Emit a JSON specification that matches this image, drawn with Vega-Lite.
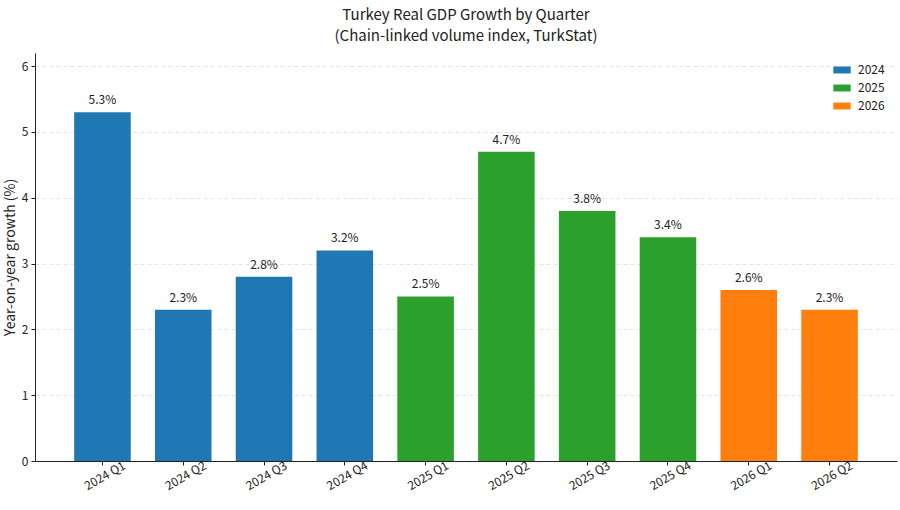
{
  "$schema": "https://vega.github.io/schema/vega-lite/v6.json",
  "width": 862,
  "height": 408,
  "autosize": {"type": "none"},
  "padding": {"left": 35, "top": 53, "right": 3, "bottom": 49},
  "background": "white",
  "config": {
    "font": "Noto Sans CJK JP",
    "view": {"stroke": null}
  },
  "title": {
    "text": ["Turkey Real GDP Growth by Quarter", "(Chain-linked volume index, TurkStat)"],
    "fontSize": 15,
    "fontWeight": "normal",
    "color": "#222222",
    "anchor": "middle",
    "offset": 9,
    "lineHeight": 21
  },
  "data": {
    "values": [
      {"quarter": "2024 Q1", "year": "2024", "growth": 5.3},
      {"quarter": "2024 Q2", "year": "2024", "growth": 2.3},
      {"quarter": "2024 Q3", "year": "2024", "growth": 2.8},
      {"quarter": "2024 Q4", "year": "2024", "growth": 3.2},
      {"quarter": "2025 Q1", "year": "2025", "growth": 2.5},
      {"quarter": "2025 Q2", "year": "2025", "growth": 4.7},
      {"quarter": "2025 Q3", "year": "2025", "growth": 3.8},
      {"quarter": "2025 Q4", "year": "2025", "growth": 3.4},
      {"quarter": "2026 Q1", "year": "2026", "growth": 2.6},
      {"quarter": "2026 Q2", "year": "2026", "growth": 2.3}
    ]
  },
  "encoding": {
    "x": {
      "field": "quarter",
      "type": "ordinal",
      "sort": null,
      "title": null,
      "scale": {"paddingInner": 0.3, "paddingOuter": 0.485},
      "axis": {
        "labelAngle": -30,
        "labelFontSize": 12,
        "labelColor": "#222222",
        "labelAlign": "center",
        "labelBaseline": "top",
        "labelPadding": 6,
        "domainColor": "#222222",
        "tickColor": "#222222",
        "tickSize": 4,
        "grid": false
      }
    },
    "y": {
      "field": "growth",
      "type": "quantitative",
      "title": "Year-on-year growth (%)",
      "scale": {"domain": [0, 6.2], "nice": false},
      "axis": {
        "values": [0, 1, 2, 3, 4, 5, 6],
        "labelFontSize": 12,
        "labelColor": "#222222",
        "labelPadding": 3,
        "titleFontSize": 14,
        "titleFontWeight": "normal",
        "titleColor": "#222222",
        "titleX": -18,
        "titleBaseline": "bottom",
        "domainColor": "#222222",
        "tickColor": "#222222",
        "tickSize": 4,
        "gridColor": "#dddddd",
        "gridDash": [4, 3],
        "gridWidth": 0.8
      }
    }
  },
  "layer": [
    {
      "mark": {"type": "bar"},
      "encoding": {
        "color": {
          "field": "year",
          "type": "nominal",
          "title": null,
          "scale": {"domain": ["2024", "2025", "2026"], "range": ["#1f77b4", "#2ca02c", "#ff7f0e"]},
          "legend": {
            "orient": "none",
            "legendX": 798,
            "legendY": 8,
            "symbolType": "M-1,-0.4H1V0.4H-1Z",
            "symbolSize": 300,
            "symbolStrokeWidth": 0,
            "labelFontSize": 12,
            "labelColor": "#222222",
            "labelOffset": 7,
            "rowPadding": 3
          }
        }
      }
    },
    {
      "transform": [
        {"calculate": "format(datum.growth, '.1f') + '%'", "as": "label"}
      ],
      "mark": {"type": "text", "dy": -12, "fontSize": 12, "color": "#222222"},
      "encoding": {
        "text": {"field": "label", "type": "nominal"}
      }
    }
  ]
}
